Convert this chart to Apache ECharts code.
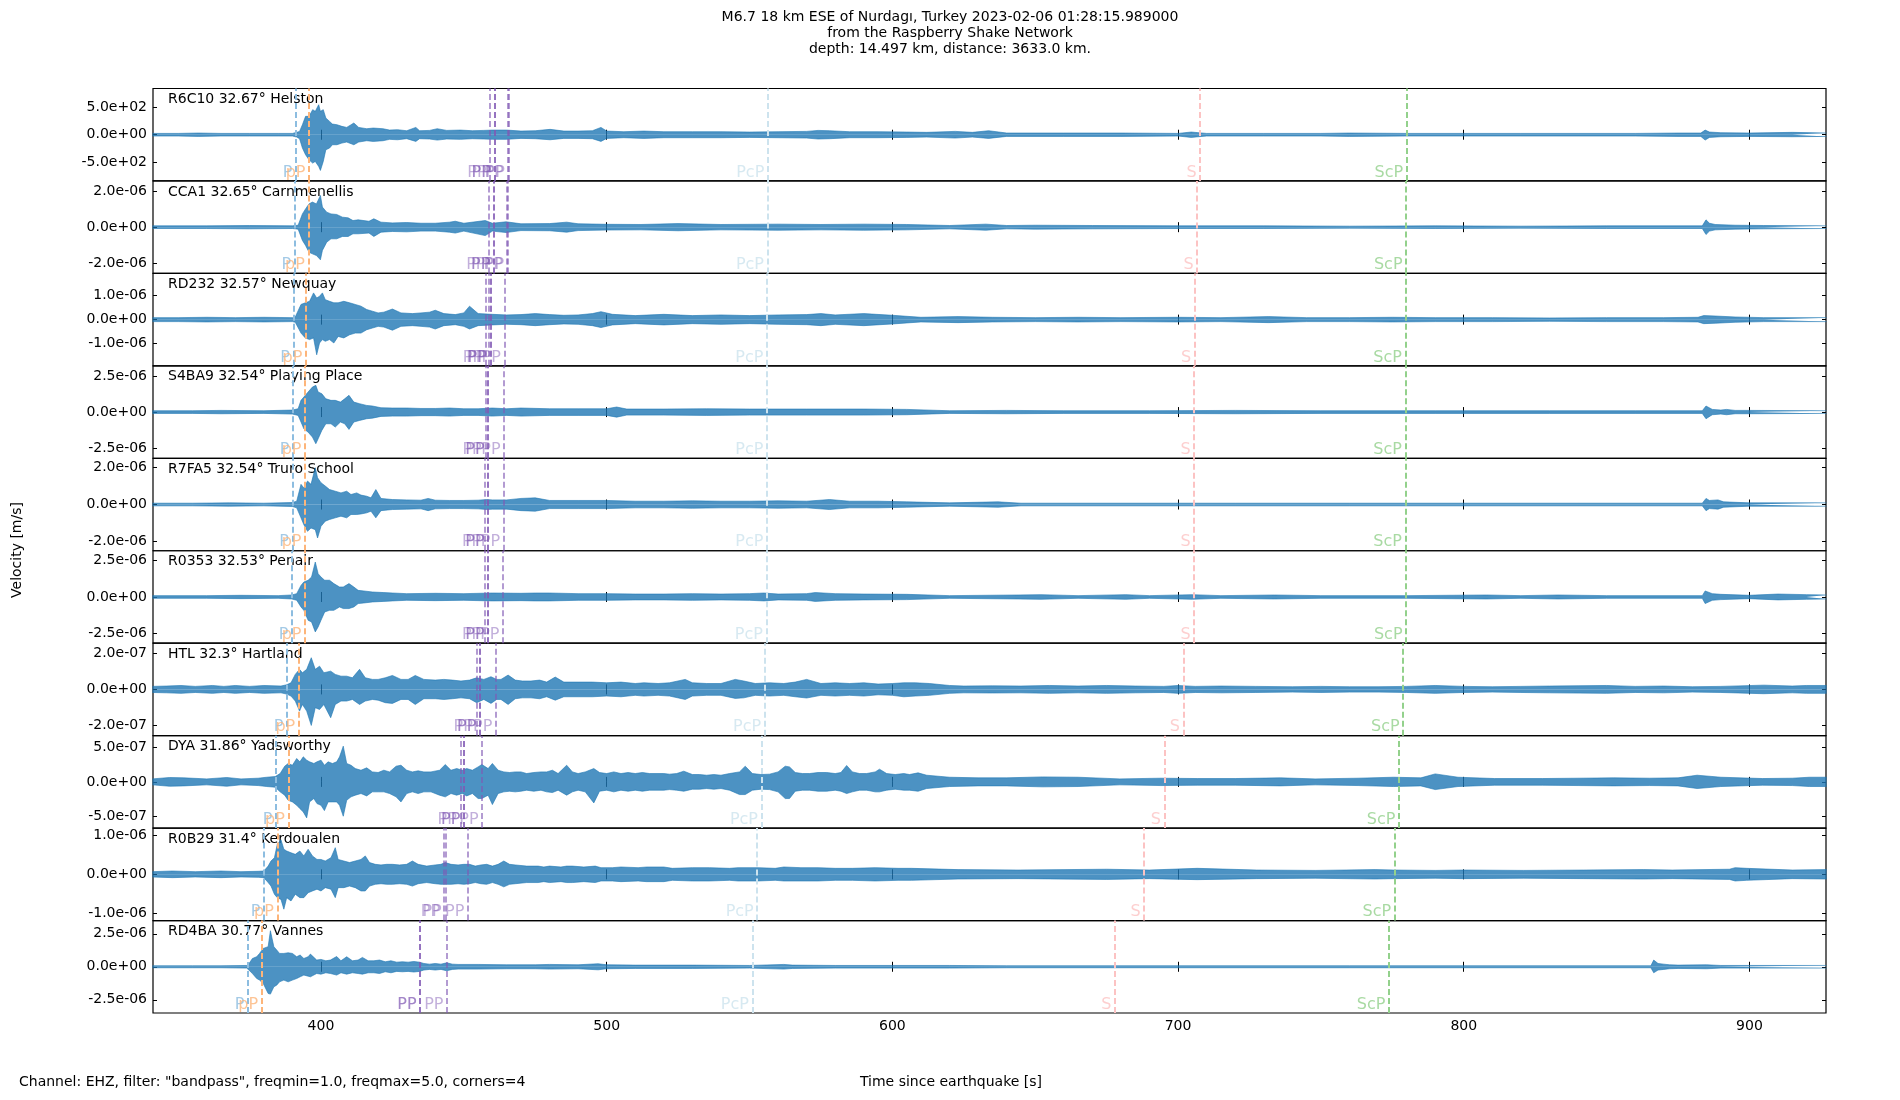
<!DOCTYPE html>
<html>
<head>
<meta charset="utf-8">
<title>M6.7 Nurdagi - Raspberry Shake section</title>
<script src="https://cdn.jsdelivr.net/npm/echarts@6/dist/echarts.min.js"></script>
<style>
  html, body { margin: 0; padding: 0; background: #fff; }
  #main { width: 1900px; height: 1100px; }
</style>
</head>
<body>
<div id="main"></div>
<script>
// stations, top to bottom
var stations = [
  'R6C10 32.67° Helston', 'CCA1 32.65° Carnmenellis', 'RD232 32.57° Newquay',
  'S4BA9 32.54° Playing Place', 'R7FA5 32.54° Truro School', 'R0353 32.53° Penair',
  'HTL 32.3° Hartland', 'DYA 31.86° Yadsworthy', 'R0B29 31.4° Kerdoualen', 'RD4BA 30.77° Vannes'
];
// y limits (symmetric) and tick step of each panel
var yLimit = [845, 2.58e-6, 1.92e-6, 3.2e-6, 2.5e-6, 3.15e-6, 2.58e-7, 6.66e-7, 1.18e-6, 3.5e-6];
var yTickStep = [500, 2e-6, 1e-6, 2.5e-6, 2e-6, 2.5e-6, 2e-7, 5e-7, 1e-6, 2.5e-6];
// unit the envelope values below are written in
var ampUnit = [1, 1e-6, 1e-6, 1e-6, 1e-6, 1e-6, 1e-7, 1e-7, 1e-6, 1e-6];
var xTicks = [400, 500, 600, 700, 800, 900];
var timeMin = 341.2, timeMax = 926.8;

// phase arrival times [s]
var tP   = [391.2, 390.8, 390.3, 390.2, 390.0, 389.8, 388.1, 384.2, 380.0, 374.4];
var tpP  = [395.8, 395.6, 394.7, 394.4, 394.4, 394.4, 392.2, 388.6, 384.7, 379.2];
var tPP  = [
  [459.2, 460.7, 460.7, 465.2, 465.6],
  [458.8, 460.5, 460.5, 464.9, 465.3],
  [457.6, 458.8, 459.3, 459.3, 464.2],
  [457.5, 458.5, 458.5, 464.1],
  [457.3, 458.5, 458.5, 463.9],
  [457.3, 458.5, 458.5, 463.7],
  [454.4, 455.6, 455.6, 461.2],
  [448.8, 450.0, 450.0, 456.4],
  [442.9, 443.5, 451.4],
  [434.7, 434.7, 444.1]
];
var tPcP = [556.4, 556.3, 556.1, 556.1, 556.1, 555.9, 555.3, 554.2, 552.7, 551.0];
var tS   = [707.7, 706.7, 705.8, 705.6, 705.6, 705.6, 701.9, 695.2, 688.1, 677.9];
var tScP = [780.0, 779.8, 779.6, 779.6, 779.6, 779.8, 778.8, 777.3, 775.8, 773.8];

// trace envelopes: [time, upper, lower] in ampUnit
var env1 = [[341,24,24],[350,24,24],[357,31,31],[365,24,24],[375,24,24],[385,24,24],[390,24,24],[391.5,43,43],[392.5,61,73],[393.5,183,244],[394.6,336,366],[395.8,336,458],[397.1,458,519],[398,427,488],[399.2,549,580],[399.8,427,653],[400.8,458,488],[401.7,305,275],[403,244,244],[404,195,183],[405.6,183,183],[407.3,153,153],[409,134,134],[411.5,214,183],[413.2,134,134],[416,110,110],[418.3,122,122],[421.7,110,110],[424,85,85],[426.8,92,92],[430,73,73],[433.2,134,122],[434.5,73,73],[438,79,79],[440.7,110,98],[444,79,79],[448.8,85,85],[453,73,73],[457,79,79],[460,85,85],[465,85,85],[470,67,67],[475,73,73],[480.2,98,92],[485,67,67],[490,67,67],[495,73,73],[498,134,122],[500,67,67],[506,55,55],[513,67,67],[520,55,55],[530,55,55],[540,55,55],[550,49,49],[560,55,55],[570,61,61],[574,79,79],[578,73,73],[585,55,55],[595,55,55],[605,49,49],[612,43,43],[622,61,61],[628,43,43],[633.7,73,67],[640,31,31],[660,31,31],[680,31,31],[700,24,24],[704.6,49,49],[710,24,24],[730,24,24],[750,24,24],[760,31,31],[780,24,24],[800,24,24],[820,24,24],[840,24,24],[860,24,24],[875,31,31],[883,31,31],[884.5,85,98],[886,49,49],[890,37,37],[900,31,31],[915,43,37],[927,31,31]];
var env2 = [[341,0.074,0.074],[360,0.074,0.074],[375,0.093,0.093],[390,0.074,0.074],[392,0.11,0.11],[393.5,0.74,0.74],[394.6,1.02,1.02],[395.8,1.30,1.40],[397,1.40,1.49],[398.4,1.30,1.58],[399.8,1.77,1.82],[400.5,1.12,1.30],[402,0.84,0.84],[403.5,0.74,0.65],[405.5,0.71,0.65],[407.5,0.56,0.52],[409.5,0.52,0.52],[411.2,0.37,0.37],[413,0.41,0.37],[416.8,0.33,0.33],[418.5,0.47,0.52],[421,0.28,0.28],[425,0.24,0.24],[430,0.26,0.26],[435,0.22,0.22],[440,0.22,0.22],[445,0.28,0.28],[447,0.33,0.33],[450,0.22,0.22],[457.5,0.37,0.47],[460,0.22,0.22],[464.8,0.30,0.30],[470,0.19,0.19],[480,0.20,0.20],[486,0.28,0.28],[490,0.19,0.19],[500,0.16,0.16],[512,0.15,0.15],[525,0.20,0.20],[540,0.15,0.15],[560,0.17,0.17],[575,0.15,0.15],[590,0.17,0.17],[605,0.15,0.15],[620,0.093,0.093],[632.7,0.17,0.17],[640,0.093,0.093],[650,0.11,0.11],[670,0.093,0.093],[700,0.074,0.074],[730,0.074,0.074],[760,0.056,0.056],[790,0.074,0.074],[820,0.056,0.056],[850,0.074,0.074],[883.5,0.074,0.074],[884.8,0.41,0.41],[886,0.22,0.22],[888,0.15,0.15],[895,0.11,0.11],[905,0.093,0.093],[927,0.074,0.074]];
var env3 = [[341,0.083,0.083],[350,0.083,0.083],[360,0.097,0.097],[370,0.083,0.083],[380,0.097,0.097],[390,0.083,0.083],[391,0.11,0.11],[393,0.63,0.56],[394.5,0.70,0.76],[396,0.76,0.83],[397.4,1.11,0.76],[398.5,0.90,1.46],[399.5,0.97,0.97],[400.5,1.11,0.83],[401.5,0.83,0.90],[403,0.76,0.83],[404.5,0.70,0.97],[406,0.70,0.70],[408,0.76,0.76],[410,0.70,0.63],[412,0.63,0.56],[414,0.56,0.56],[416,0.42,0.42],[418,0.35,0.35],[420,0.28,0.28],[422,0.31,0.31],[425,0.44,0.44],[428,0.28,0.28],[432,0.25,0.25],[435,0.28,0.28],[438,0.31,0.31],[440,0.39,0.39],[443,0.25,0.25],[447,0.21,0.21],[450,0.28,0.28],[452,0.56,0.39],[455,0.25,0.25],[460,0.22,0.22],[465,0.195,0.195],[470,0.21,0.21],[475,0.25,0.25],[480,0.21,0.21],[485,0.18,0.18],[490,0.195,0.195],[495,0.25,0.25],[498,0.33,0.33],[502,0.22,0.22],[510,0.167,0.167],[520,0.22,0.22],[530,0.167,0.167],[540,0.195,0.195],[550,0.167,0.167],[560,0.195,0.195],[570,0.21,0.21],[575,0.25,0.25],[580,0.195,0.195],[590,0.25,0.25],[600,0.18,0.18],[610,0.097,0.097],[623,0.125,0.125],[635,0.097,0.097],[650,0.083,0.083],[665,0.097,0.097],[680,0.083,0.083],[700,0.097,0.097],[715,0.083,0.083],[731.7,0.125,0.125],[745,0.083,0.083],[760,0.083,0.083],[775,0.097,0.097],[790,0.083,0.083],[810,0.083,0.083],[830,0.07,0.07],[850,0.083,0.083],[870,0.083,0.083],[882,0.097,0.097],[884,0.167,0.167],[888,0.15,0.15],[895,0.11,0.11],[905,0.083,0.083],[927,0.083,0.083]];
var env4 = [[341,0.092,0.092],[355,0.092,0.092],[365,0.116,0.116],[380,0.092,0.092],[390,0.139,0.139],[392,0.23,0.23],[393,0.81,0.69],[394,1.04,1.16],[395.5,1.39,1.39],[397,1.73,1.73],[398.2,1.85,2.19],[399,1.39,1.85],[400.3,1.27,1.27],[401.7,0.92,0.81],[403.5,0.81,0.81],[405,0.81,1.04],[406.8,0.69,0.69],[408.3,0.92,0.81],[409.8,1.16,1.20],[411.5,0.69,0.69],[413.5,0.58,0.58],[416,0.46,0.46],[418,0.42,0.42],[421,0.30,0.30],[425,0.28,0.28],[430,0.28,0.28],[435,0.25,0.25],[440,0.25,0.25],[445,0.28,0.28],[450,0.23,0.23],[455,0.23,0.23],[460,0.28,0.28],[465,0.23,0.23],[470,0.28,0.28],[480,0.23,0.23],[490,0.23,0.23],[500,0.23,0.23],[503.5,0.35,0.35],[507,0.21,0.21],[520,0.21,0.21],[535,0.23,0.23],[550,0.21,0.21],[570,0.21,0.21],[590,0.21,0.21],[605,0.185,0.185],[620,0.092,0.092],[640,0.116,0.116],[660,0.092,0.092],[690,0.092,0.092],[720,0.116,0.116],[750,0.092,0.092],[790,0.092,0.092],[830,0.092,0.092],[860,0.092,0.092],[883.5,0.092,0.092],[884.8,0.42,0.46],[887,0.185,0.185],[890,0.139,0.139],[892,0.185,0.185],[895,0.116,0.116],[900,0.116,0.116],[927,0.092,0.092]];
var env5 = [[341,0.072,0.072],[355,0.072,0.072],[368,0.09,0.09],[380,0.072,0.072],[390,0.11,0.11],[391.5,0.18,0.18],[393,1.09,0.72],[394,0.90,1.09],[395.3,1.27,1.45],[396.5,1.09,1.27],[398,1.99,1.36],[398.8,1.45,1.81],[400,1.18,1.18],[401.5,1.0,0.90],[403,0.81,0.81],[405,0.72,0.72],[407,0.63,0.63],[409,0.72,0.72],[410.5,0.54,0.54],[412.5,0.63,0.54],[414,0.51,0.51],[416,0.45,0.45],[417.5,0.36,0.36],[419.2,0.81,0.72],[421,0.33,0.33],[425,0.27,0.27],[430,0.25,0.25],[435,0.235,0.235],[437.5,0.33,0.33],[440,0.235,0.235],[445,0.22,0.22],[450,0.22,0.22],[455,0.235,0.235],[458,0.27,0.27],[460,0.25,0.25],[465,0.25,0.25],[470,0.33,0.33],[475,0.36,0.36],[480,0.22,0.22],[490,0.22,0.22],[500,0.22,0.22],[510,0.18,0.18],[520,0.18,0.18],[530,0.20,0.20],[540,0.18,0.18],[550,0.18,0.18],[560,0.20,0.20],[570,0.18,0.18],[578,0.27,0.27],[585,0.18,0.18],[595,0.18,0.18],[605,0.145,0.145],[620,0.09,0.09],[637,0.145,0.145],[645,0.072,0.072],[680,0.072,0.072],[720,0.072,0.072],[760,0.072,0.072],[800,0.072,0.072],[840,0.072,0.072],[883.5,0.072,0.072],[884.8,0.33,0.33],[886,0.22,0.22],[889,0.25,0.25],[891,0.145,0.145],[900,0.09,0.09],[927,0.09,0.09]];
var env6 = [[341,0.091,0.091],[360,0.091,0.091],[372,0.114,0.114],[385,0.091,0.091],[389.8,0.136,0.136],[391.5,0.227,0.227],[393,0.79,0.68],[394,1.02,0.91],[395.5,1.14,1.59],[396.7,1.36,1.70],[398,2.38,2.38],[399,1.59,2.04],[400,1.36,1.59],[401.3,1.14,1.02],[403,1.14,0.91],[404.5,0.91,0.91],[406.5,0.68,0.68],[407.8,0.68,0.79],[409.8,0.91,0.79],[411.5,0.68,0.68],[413,0.45,0.45],[415,0.41,0.41],[418,0.34,0.34],[422,0.30,0.30],[425,0.27,0.27],[430,0.227,0.227],[440,0.25,0.25],[450,0.227,0.227],[460,0.27,0.27],[470,0.25,0.25],[475,0.27,0.27],[480,0.27,0.27],[490,0.227,0.227],[500,0.227,0.227],[510,0.20,0.20],[520,0.20,0.20],[530,0.227,0.227],[540,0.20,0.20],[550,0.227,0.227],[555,0.27,0.27],[560,0.20,0.20],[570,0.227,0.227],[573,0.30,0.30],[580,0.227,0.227],[590,0.20,0.20],[605,0.18,0.18],[620,0.091,0.091],[644,0.136,0.136],[652,0.159,0.159],[665,0.091,0.091],[681.7,0.159,0.159],[690,0.091,0.091],[705,0.159,0.159],[715,0.091,0.091],[733.7,0.136,0.136],[750,0.091,0.091],[780,0.091,0.091],[808,0.136,0.136],[820,0.091,0.091],[833,0.136,0.136],[850,0.091,0.091],[883.5,0.091,0.091],[884.5,0.41,0.45],[887,0.227,0.227],[890,0.18,0.18],[900,0.114,0.114],[910,0.20,0.20],[920,0.159,0.159],[927,0.136,0.136]];
var env7 = [[341,0.17,0.17],[346,0.19,0.19],[351,0.22,0.22],[356,0.17,0.17],[362,0.22,0.22],[366,0.17,0.17],[370,0.22,0.22],[375,0.17,0.17],[380,0.22,0.22],[386,0.19,0.19],[388,0.26,0.26],[389.5,0.37,0.37],[391,0.84,0.65],[392.5,1.12,1.21],[393.5,0.93,0.84],[395,1.12,1.21],[396.6,1.77,2.01],[398,1.12,1.02],[399.5,1.30,1.12],[401,0.93,0.84],[403.4,1.02,1.58],[405,0.84,0.84],[407,0.74,0.65],[409,0.74,0.65],[411,0.65,0.56],[413.5,1.12,0.84],[415.5,0.65,0.65],[418,0.56,0.56],[420,0.56,0.60],[422.5,0.65,0.74],[425,0.78,0.78],[428,0.56,0.56],[430.5,0.56,0.56],[433,0.78,0.84],[436,0.56,0.52],[440,0.52,0.52],[443,0.56,0.56],[446,0.52,0.52],[449,0.47,0.47],[452,0.52,0.52],[454.5,0.65,0.74],[457,0.56,0.56],[459.5,0.71,0.78],[461.5,0.56,0.56],[463,0.56,0.56],[465.5,0.80,0.84],[468,0.52,0.52],[470.5,0.47,0.47],[473.5,0.47,0.47],[476.5,0.52,0.52],[479,0.41,0.41],[482,0.69,0.60],[485,0.41,0.41],[490,0.41,0.41],[495,0.41,0.41],[500,0.37,0.37],[505,0.41,0.41],[510,0.33,0.33],[513,0.37,0.37],[518,0.33,0.33],[522,0.37,0.37],[527.5,0.56,0.56],[530,0.37,0.37],[535,0.33,0.33],[540,0.33,0.33],[545,0.56,0.50],[548,0.47,0.47],[552,0.33,0.33],[557,0.37,0.37],[562,0.33,0.33],[566,0.41,0.41],[570,0.56,0.48],[575,0.33,0.33],[580,0.37,0.37],[585,0.33,0.33],[590,0.37,0.37],[595,0.30,0.30],[600,0.33,0.33],[604,0.37,0.41],[608,0.37,0.37],[613,0.33,0.33],[620,0.22,0.22],[625,0.19,0.19],[635,0.20,0.20],[645,0.19,0.19],[655,0.22,0.22],[665,0.19,0.19],[675,0.22,0.22],[685,0.19,0.19],[695,0.17,0.17],[700,0.22,0.22],[706,0.17,0.17],[715,0.19,0.19],[727,0.17,0.17],[740,0.15,0.15],[750,0.17,0.17],[760,0.15,0.15],[770,0.15,0.15],[780,0.17,0.17],[790,0.22,0.22],[800,0.17,0.17],[810,0.15,0.15],[820,0.17,0.17],[830,0.19,0.19],[850,0.22,0.22],[860,0.17,0.17],[870,0.19,0.19],[880,0.15,0.15],[890,0.17,0.17],[905,0.24,0.24],[915,0.19,0.19],[920,0.22,0.22],[927,0.22,0.22]];
var env8 = [[341,0.43,0.43],[347,0.63,0.63],[352,0.58,0.58],[360,0.43,0.43],[367,0.63,0.63],[372,0.43,0.43],[378,0.53,0.53],[381,0.67,0.67],[384,0.77,0.77],[385.7,1.20,1.44],[387.3,2.26,1.92],[388.5,2.65,2.65],[390,2.4,2.89],[391.5,3.37,3.37],[392.6,2.89,3.85],[393.8,3.61,4.33],[395,3.13,5.19],[396,2.89,2.89],[397.5,2.65,2.4],[398.6,2.89,3.13],[400,3.13,3.37],[401.2,2.4,4.14],[402.5,2.89,2.89],[404,2.65,2.89],[405.5,2.89,2.89],[406.5,3.61,3.37],[407.8,5.15,4.95],[409,2.65,2.65],[410.5,2.4,2.16],[412,1.92,1.92],[414,1.68,1.68],[416,2.02,2.02],[418,1.44,1.44],[420,1.35,1.44],[422,1.68,1.44],[424,1.44,1.68],[426.3,2.26,2.16],[428,2.4,2.89],[430,1.68,1.68],[432,1.44,1.44],[434,1.59,1.68],[436,1.44,1.44],[438.5,1.44,1.44],[441.5,1.68,1.92],[443.5,2.5,2.16],[445.5,1.68,1.68],[447.5,1.92,1.92],[449.5,1.68,1.68],[451,1.92,2.02],[453,1.68,1.68],[455,2.16,2.4],[456.3,2.5,2.4],[458.5,1.92,1.92],[460,2.65,3.27],[462,1.68,1.68],[464,1.44,1.44],[466,1.35,1.35],[468,1.44,1.44],[470,1.44,1.35],[472,1.20,1.20],[474.5,1.35,1.35],[477,1.44,1.20],[479,1.44,1.44],[481,1.68,1.54],[483,1.20,1.20],[486,2.4,1.92],[488,1.44,1.44],[490,1.20,1.20],[492.5,1.44,1.44],[495.5,1.92,3.03],[497.5,1.35,1.35],[500,1.20,1.20],[502.5,1.44,1.44],[505,1.20,1.20],[507.5,1.35,1.35],[510,1.20,1.20],[512.5,1.35,1.35],[515,1.20,1.20],[520,1.20,1.20],[522,1.11,1.11],[524.5,1.20,1.20],[527,1.54,1.35],[530,1.06,1.06],[532.5,1.06,1.06],[535,0.96,0.96],[537.5,1.06,1.06],[540,0.96,0.96],[543,1.20,1.20],[546.5,1.44,1.83],[548.5,2.26,1.83],[551,1.20,1.20],[554,1.06,1.06],[557,1.11,1.11],[560,1.44,1.44],[562.5,2.26,2.4],[564,2.16,2.4],[566,1.35,1.35],[568.5,1.20,1.20],[571,1.20,1.20],[574,1.35,1.35],[577,1.35,1.35],[580,1.20,1.20],[582,1.35,1.35],[584,2.36,1.68],[586,1.44,1.44],[588.5,1.20,1.20],[591,1.20,1.20],[594,1.44,1.44],[595.5,1.83,1.44],[598,1.20,1.20],[601,1.06,1.06],[604,1.20,1.20],[606,1.06,1.20],[609,1.30,1.35],[612,0.96,0.96],[620,0.67,0.67],[630,0.58,0.58],[640,0.58,0.58],[652.5,0.72,0.72],[665,0.67,0.67],[679.6,0.43,0.43],[694,0.53,0.53],[706.7,0.48,0.48],[720,0.48,0.48],[735.8,0.58,0.58],[748,0.43,0.43],[763,0.53,0.53],[775.4,0.67,0.67],[785,0.58,0.58],[790,1.15,1.11],[798,0.67,0.67],[810.8,0.48,0.48],[827.5,0.48,0.48],[840,0.53,0.53],[852.5,0.58,0.58],[865,0.53,0.53],[875,0.58,0.58],[881.7,0.96,0.96],[890,0.67,0.67],[904.6,0.48,0.48],[915,0.53,0.53],[921,0.67,0.67],[927,0.67,0.67]];
var env9 = [[341,0.068,0.068],[348,0.085,0.085],[356,0.068,0.068],[365,0.085,0.085],[372,0.068,0.068],[378,0.077,0.077],[380,0.085,0.085],[381.5,0.21,0.21],[382.5,0.34,0.30],[383.7,0.425,0.51],[384.7,0.765,0.595],[386,0.88,0.64],[387,0.64,0.89],[388,0.595,0.595],[389.5,0.55,0.68],[391,0.51,0.51],[392.6,0.595,0.595],[394,0.47,0.595],[395.5,0.64,0.47],[397,0.47,0.425],[398.6,0.38,0.38],[400,0.38,0.425],[401.5,0.34,0.34],[403.5,0.425,0.38],[405,0.68,0.595],[406,0.38,0.34],[408,0.34,0.34],[410,0.30,0.30],[412,0.34,0.34],[414,0.38,0.425],[415.5,0.47,0.425],[417,0.30,0.30],[419,0.255,0.255],[421,0.24,0.24],[423,0.255,0.255],[425,0.255,0.255],[427.5,0.24,0.24],[430,0.255,0.255],[432,0.34,0.30],[434,0.255,0.24],[437,0.21,0.21],[440,0.24,0.24],[442,0.255,0.255],[443.5,0.30,0.255],[445.5,0.255,0.255],[448,0.24,0.24],[450,0.255,0.255],[452,0.255,0.24],[454,0.21,0.21],[456,0.24,0.24],[458,0.255,0.255],[460,0.21,0.21],[462,0.255,0.255],[464,0.34,0.32],[466,0.255,0.255],[468,0.24,0.24],[472,0.21,0.21],[476,0.21,0.21],[478,0.187,0.187],[480,0.21,0.21],[484,0.187,0.187],[486,0.21,0.21],[488,0.21,0.21],[492,0.187,0.187],[496,0.21,0.21],[498,0.17,0.17],[502,0.17,0.17],[505,0.187,0.187],[511,0.17,0.17],[514,0.187,0.187],[520,0.187,0.187],[523,0.153,0.153],[530,0.17,0.17],[536,0.17,0.17],[543,0.153,0.153],[546,0.17,0.17],[553,0.17,0.17],[559,0.153,0.153],[562,0.187,0.17],[568,0.17,0.17],[574,0.17,0.17],[580,0.153,0.153],[586,0.153,0.153],[594,0.17,0.17],[602,0.153,0.153],[606.7,0.153,0.153],[623,0.12,0.12],[644,0.11,0.11],[675,0.13,0.13],[690,0.11,0.11],[706.7,0.153,0.136],[727.5,0.11,0.11],[748,0.10,0.10],[769,0.12,0.12],[775.4,0.11,0.11],[790,0.10,0.10],[800,0.11,0.11],[821,0.10,0.10],[842,0.11,0.11],[863,0.12,0.12],[873,0.11,0.11],[893,0.13,0.13],[895,0.17,0.17],[899,0.153,0.153],[915,0.11,0.11],[927,0.12,0.12]];
var env10 = [[341,0.076,0.076],[355,0.076,0.076],[365,0.076,0.076],[374,0.10,0.10],[375,0.30,0.30],[376,0.63,0.51],[377.5,0.76,0.89],[378.5,1.01,1.01],[379.8,1.39,1.27],[381.5,1.52,2.02],[382.3,2.73,2.07],[383.5,1.52,1.52],[384.5,1.27,1.39],[385.5,1.01,1.14],[387,1.01,1.01],[388.5,1.06,1.14],[390,1.01,1.01],[391.5,0.76,0.89],[392.7,0.89,0.76],[394,0.63,0.63],[395.5,0.76,0.71],[396.3,0.96,0.76],[398.5,0.51,0.51],[400,0.56,0.56],[401.7,0.455,0.455],[403.3,0.51,0.51],[405.5,0.78,0.63],[407,0.455,0.455],[409,0.76,0.56],[411,0.455,0.455],[413,0.51,0.51],[414.5,0.71,0.56],[416.5,0.455,0.455],[418.5,0.455,0.455],[420.5,0.51,0.51],[422.5,0.38,0.38],[424.5,0.455,0.455],[426.5,0.35,0.35],[428.5,0.38,0.38],[430.5,0.35,0.35],[432.5,0.40,0.40],[434.5,0.35,0.35],[436,0.25,0.25],[438,0.20,0.20],[440,0.25,0.25],[442,0.20,0.20],[444,0.30,0.30],[446,0.20,0.20],[448,0.177,0.177],[455,0.177,0.177],[465,0.15,0.15],[475,0.15,0.15],[480,0.177,0.177],[490,0.15,0.15],[497,0.23,0.23],[500,0.15,0.15],[510,0.126,0.126],[530,0.126,0.126],[550,0.10,0.10],[562,0.177,0.177],[565,0.126,0.126],[580,0.10,0.10],[600,0.10,0.10],[620,0.10,0.10],[640,0.076,0.076],[700,0.076,0.076],[760,0.076,0.076],[820,0.076,0.076],[865.5,0.076,0.076],[866.5,0.51,0.455],[868,0.25,0.25],[870,0.20,0.20],[872,0.15,0.15],[875,0.126,0.126],[885,0.15,0.15],[890,0.10,0.10],[927,0.10,0.10]];
var envelopes = [env1, env2, env3, env4, env5, env6, env7, env8, env9, env10];

// layout and styles
var gridLeft = 153, gridRight = 74, gridTop = 88.5, panelH = 92.45;
var FONT = '"DejaVu Sans", sans-serif';
var traceColor = '#1f77b4';
var phaseColor = {
  'P': '#8dbde0', 'pP': '#fdb57a', 'PP': 'rgba(128,88,180,0.6)',
  'PcP': '#cde3ee', 'S': '#fcc3c3', 'ScP': '#93d18c'
};

function sciFmt(v) {
  if (Math.abs(v) < 1e-30) return '0.0e+00';
  return v.toExponential(1).replace(/e([+-])(\d+)$/, function (m, s, d) {
    return 'e' + s + (d.length < 2 ? '0' + d : d);
  });
}

var myChart = echarts.init(document.getElementById('main'), null, {renderer: 'canvas'});

var grids = [], xAxes = [], yAxes = [], series = [], graphics = [];

stations.forEach(function (name, i) {
  var top = gridTop + i * panelH;
  var last = (i === stations.length - 1);
  var step = yTickStep[i];
  var yTicks = [-step, 0, step];
  grids.push({
    left: gridLeft, right: gridRight, top: top, height: panelH,
    show: true, borderColor: '#000', borderWidth: 1.2, backgroundColor: 'transparent'
  });
  ['bottom', 'top'].forEach(function (pos) {
    xAxes.push({
      gridIndex: i, type: 'value', position: pos, min: timeMin, max: timeMax,
      axisLine: {show: false}, splitLine: {show: false},
      axisTick: {show: true, inside: true, length: 5, customValues: xTicks, lineStyle: {color: '#000', width: 1}},
      axisLabel: {show: last && pos === 'bottom', customValues: xTicks, color: '#000', fontSize: 14, fontFamily: FONT, margin: 6}
    });
  });
  ['left', 'right'].forEach(function (pos) {
    yAxes.push({
      gridIndex: i, type: 'value', position: pos, min: -yLimit[i], max: yLimit[i],
      axisLine: {show: false}, splitLine: {show: false},
      axisTick: {show: true, inside: true, length: 4, customValues: yTicks, lineStyle: {color: '#000', width: 1}},
      axisLabel: {show: pos === 'left', customValues: yTicks, formatter: sciFmt, color: '#000', fontSize: 14, fontFamily: FONT, margin: 6}
    });
  });

  // phases for this panel
  var phases = [{name: 'P', t: tP[i]}, {name: 'pP', t: tpP[i]}];
  tPP[i].forEach(function (t) { phases.push({name: 'PP', t: t}); });
  phases.push({name: 'PcP', t: tPcP[i]}, {name: 'S', t: tS[i]}, {name: 'ScP', t: tScP[i]});

  var u = ampUnit[i];
  var env = envelopes[i];
  var lineBase = {
    type: 'line', xAxisIndex: 2 * i, yAxisIndex: 2 * i, symbol: 'none', showSymbol: false,
    silent: true, animation: false, clip: true, z: 3,
    lineStyle: {color: traceColor, width: 0.6},
    areaStyle: {color: traceColor, opacity: 0.8}
  };
  series.push(Object.assign({}, lineBase, {
    data: env.map(function (d) { return [d[0], d[1] * u]; }),
    markLine: {
      silent: true, animation: false, symbol: ['none', 'none'], label: {show: false},
      lineStyle: {type: [6, 3], width: 2},
      data: phases.map(function (p) {
        return {xAxis: p.t, lineStyle: {color: phaseColor[p.name], type: [6, 3], width: 2}};
      })
    }
  }));
  series.push(Object.assign({}, lineBase, {
    data: env.map(function (d) { return [d[0], -d[2] * u]; })
  }));
  // phase names at the panel bottom
  series.push({
    type: 'scatter', xAxisIndex: 2 * i, yAxisIndex: 2 * i, symbol: 'circle', symbolSize: 1,
    itemStyle: {color: 'transparent'}, silent: true, animation: false, z: 5,
    label: {show: true, formatter: '{b}', position: [-3, 0], align: 'right', verticalAlign: 'bottom',
            fontSize: 16, fontFamily: FONT},
    data: phases.map(function (p) {
      return {name: p.name, value: [p.t, -yLimit[i]], label: {color: phaseColor[p.name]}};
    })
  });

  graphics.push({
    type: 'text', x: gridLeft + 15, y: top + 4, silent: true,
    style: {text: name, font: '14px ' + FONT, fill: '#000', textVerticalAlign: 'top'}
  });
});

graphics.push({
  type: 'text', x: 950, y: 9, silent: true,
  style: {
    text: 'M6.7 18 km ESE of Nurdagı, Turkey 2023-02-06 01:28:15.989000\nfrom the Raspberry Shake Network\ndepth: 14.497 km, distance: 3633.0 km.',
    font: '14px ' + FONT, fill: '#000', textAlign: 'center', textVerticalAlign: 'top', lineHeight: 16
  }
});
graphics.push({
  type: 'text', x: 17, y: 550, rotation: Math.PI / 2, silent: true,
  style: {text: 'Velocity [m/s]', font: '14px ' + FONT, fill: '#000', textAlign: 'center', textVerticalAlign: 'middle'}
});
graphics.push({
  type: 'text', x: 19, y: 1082, silent: true,
  style: {text: 'Channel: EHZ, filter: "bandpass", freqmin=1.0, freqmax=5.0, corners=4', font: '14px ' + FONT, fill: '#000', textVerticalAlign: 'middle'}
});
graphics.push({
  type: 'text', x: 951, y: 1082, silent: true,
  style: {text: 'Time since earthquake [s]', font: '14px ' + FONT, fill: '#000', textAlign: 'center', textVerticalAlign: 'middle'}
});

var option = {
  backgroundColor: '#fff',
  animation: false,
  grid: grids,
  xAxis: xAxes,
  yAxis: yAxes,
  series: series,
  graphic: graphics
};
myChart.setOption(option);
</script>
</body>
</html>
